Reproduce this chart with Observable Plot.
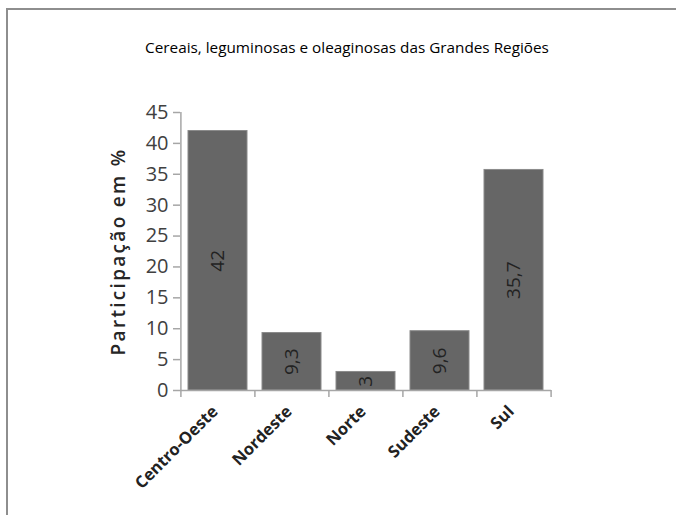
<!DOCTYPE html>
<html>
<head>
<meta charset="utf-8">
<script src="https://cdn.jsdelivr.net/npm/d3@7"></script>
<script src="https://cdn.jsdelivr.net/npm/@observablehq/plot@0.6"></script>
<style>
  html, body { margin: 0; padding: 0; background: #fff; }
  #wrap { position: relative; width: 676px; height: 515px; overflow: hidden; }
  #border { position: absolute; left: 6px; top: 8px; width: 700px; height: 600px;
            border-left: 2px solid #8e8e8e; border-top: 2px solid #8e8e8e; box-sizing: border-box; }
  #chart { position: absolute; left: 0; top: 0; }
</style>
</head>
<body>
<div id="wrap"><div id="border"></div><div id="chart"></div></div>
<script>
const title = "Cereais, leguminosas e oleaginosas das Grandes Regiões";
const yLabel = "Participação em %";
const categories = ["Centro-Oeste", "Nordeste", "Norte", "Sudeste", "Sul"];
const values = [42, 9.3, 3, 9.6, 35.7];
const valueLabels = ["42", "9,3", "3", "9,6", "35,7"];
const yTicks = [0, 5, 10, 15, 20, 25, 30, 35, 40, 45];

const data = categories.map((c, i) => ({region: c, value: values[i], label: valueLabels[i]}));

const W = 676, H = 515, mL = 180, mR = 125, mT = 112, mB = 125;
const step = (W - mL - mR) / categories.length;
const axisColor = "#a6a6a6";

const plot = Plot.plot({
  width: W, height: H,
  marginLeft: mL, marginRight: mR, marginTop: mT, marginBottom: mB,
  style: {fontFamily: "'Open Sans', sans-serif", background: "transparent", overflow: "visible"},
  x: {domain: categories, paddingInner: 0.2, paddingOuter: 0.1, axis: null, label: null},
  y: {domain: [0, 45], axis: null, label: null},
  marks: [
    Plot.barY(data, {x: "region", y: "value", fill: "#666666", stroke: "#8a8a8a", strokeWidth: 1}),
    Plot.ruleY([0], {stroke: axisColor, strokeWidth: 1.5}),
    Plot.ruleX([categories[0]], {dx: -step / 2, stroke: axisColor, strokeWidth: 1.5}),
    Plot.axisX({tickSize: 7, dx: -step / 2, text: null, label: null, stroke: axisColor, strokeWidth: 1.5}),
    Plot.axisX({ticks: [categories[categories.length - 1]], tickSize: 7, dx: step / 2, text: null, label: null, stroke: axisColor, strokeWidth: 1.5}),
    Plot.axisY({ticks: yTicks, tickSize: 7, tickPadding: 5, fontSize: 20, stroke: axisColor, strokeWidth: 1.5, fill: "#404040", label: null}),
    Plot.text(data, {x: "region", y: d => d.value / 2, text: "label", rotate: -90, fontSize: 19, fill: "#222"}),
    Plot.text(data, {x: "region", text: "region", frameAnchor: "bottom", dy: 22, dx: 1, rotate: -45, textAnchor: "end", fontSize: 16.5, fontWeight: "bold", fill: "#222"}),
    Plot.text([yLabel], {frameAnchor: "left", dx: -62, rotate: -90, textAnchor: "middle", fontSize: 19, fontWeight: 600, fill: "#262626"}),
    Plot.text([title], {frameAnchor: "top", dy: -70, dx: -19, fontSize: 15.3, fill: "#000"})
  ]
});
plot.querySelectorAll("text").forEach(t => {
  if (t.textContent === yLabel) {
    t.setAttribute("letter-spacing", "2.3");
    t.style.letterSpacing = "2.3px";
  }
});
document.getElementById("chart").appendChild(plot);
</script>
</body>
</html>
